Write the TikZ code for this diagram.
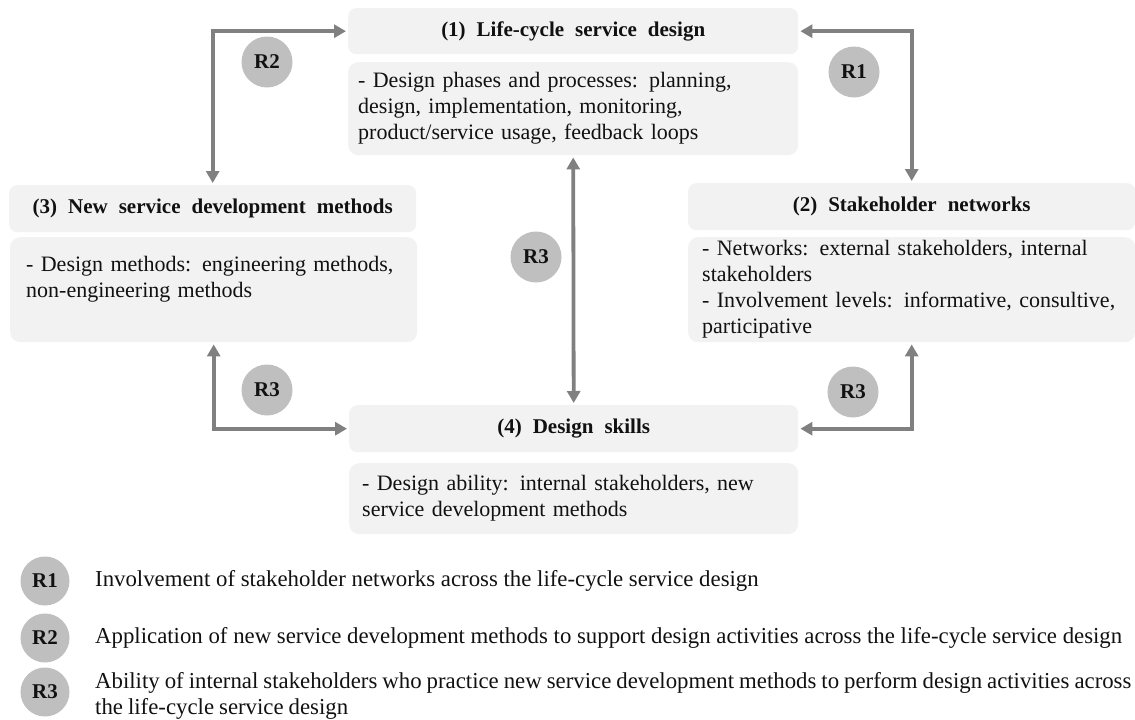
\documentclass[tikz,border=0pt]{standalone}
\usepackage{fontspec}
\setmainfont{Liberation Serif}
\usetikzlibrary{arrows.meta}

\definecolor{boxfill}{HTML}{F2F2F2}
\definecolor{tagfill}{HTML}{BFBFBF}
\definecolor{linkgray}{HTML}{808080}
\definecolor{ink}{HTML}{111111}

% wide inter-word spacing used in the boxes
\newcommand{\widesp}{\spaceskip=11pt plus 3pt minus 2pt\relax}
\newcommand{\bodysp}{\spaceskip=12pt plus 3pt minus 2pt\relax}
% slightly tighter spacing for the long legend line
\newcommand{\tightsp}{\spaceskip=5pt plus 1pt minus 1pt\relax}

\begin{document}
\begin{tikzpicture}[x=1pt,y=-1pt,
  headbox/.style={fill=boxfill, rounded corners=8pt, text=ink,
    font=\fontsize{21}{26}\selectfont\bfseries\widesp,
    inner sep=0pt, anchor=north west},
  bodybox/.style={fill=boxfill, rounded corners=10pt, text=ink,
    font=\fontsize{22}{26}\selectfont\bodysp,
    align=left, inner ysep=0pt, anchor=north west},
  tag/.style={circle, fill=tagfill, minimum size=51pt, inner sep=0pt,
    text=ink, font=\fontsize{21}{21}\selectfont\bfseries},
  legendtext/.style={text=ink, align=left, inner sep=0pt, anchor=west,
    font=\fontsize{22.8}{26}\selectfont},
  link/.style={draw=linkgray, line width=3.8pt,
    {Triangle[length=12pt,width=13pt]}-{Triangle[length=12pt,width=13pt]},
    shorten <=2pt, shorten >=2pt}]

\useasboundingbox (0,0) rectangle (1135,720);

% (1) life-cycle service design
\node[headbox, minimum width=450pt, minimum height=46pt] (b1t) at (348,8)
  {(1) Life-cycle service design};
\node[bodybox, inner xsep=10pt, text width=430pt, minimum height=93pt] (b1b) at (348,62)
  {- Design phases and processes: planning,\\
   design, implementation, monitoring,\\
   product/service usage, feedback loops};

% (3) new service development methods
\node[headbox, minimum width=407pt, minimum height=47pt] (b3t) at (9,185)
  {(3) New service development methods};
\node[bodybox, inner xsep=16pt, text width=375pt, minimum height=105pt] (b3b) at (10,237)
  {- Design methods: engineering methods,\\
   non-engineering methods\\ \mbox{}};

% (2) stakeholder networks
\node[headbox, minimum width=447pt, minimum height=47pt] (b2t) at (688,183)
  {(2) Stakeholder networks};
\node[bodybox, inner xsep=14pt, text width=419pt, minimum height=105pt] (b2b) at (688,237)
  {- Networks: external stakeholders, internal\\
   stakeholders\\
   - Involvement levels: informative, consultive,\\
   participative};

% (4) design skills
\node[headbox, minimum width=449pt, minimum height=47pt] (b4t) at (349,405)
  {(4) Design skills};
\node[bodybox, inner xsep=13pt, text width=423pt, minimum height=71pt] (b4b) at (349,463)
  {- Design ability: internal stakeholders, new\\
   service development methods};

% relationships between the four areas
\draw[link] (b3t.north) |- (b1t.west);
\draw[link] (b1t.east) -| (b2t.north);
\draw[link] (b1b.south) -- (b4t.north);
\draw[link] (b3b.south) |- (b4t.west);
\draw[link] (b2b.south) |- (b4t.east);

\node[tag] (r2) at (267,62) {R2};
\node[tag] (r1) at (854,72) {R1};
\node[tag] (r3c) at (536,257) {R3};
\node[tag] (r3l) at (267,390) {R3};
\node[tag] (r3r) at (853,392) {R3};

% legend
\node[tag, minimum size=49pt] (k1) at (45,581) {R1};
\node[tag, minimum size=49pt] (k2) at (45,638) {R2};
\node[tag, minimum size=49pt] (k3) at (45,692) {R3};
\node[legendtext] (t1) at (95,581)
  {Involvement of stakeholder networks across the life-cycle service design};
\node[legendtext] (t2) at (95,638)
  {Application of new service development methods to support design activities across the life-cycle service design};
\node[legendtext, font=\fontsize{22.8}{26}\selectfont\tightsp] (t3) at (95,696)
  {Ability of internal stakeholders who practice new service development methods to perform design activities across\\
   the life-cycle service design};
\end{tikzpicture}
\end{document}
